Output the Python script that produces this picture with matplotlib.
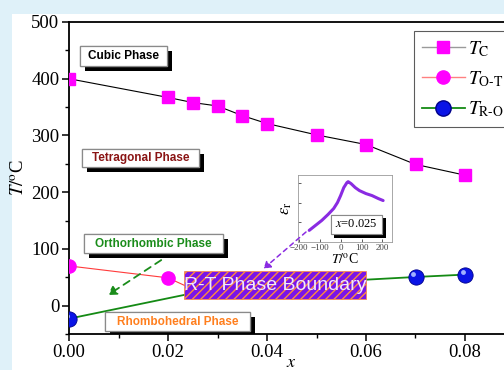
import numpy as np
import matplotlib
matplotlib.use("Agg")
import matplotlib.pyplot as plt
from matplotlib import patheffects
from matplotlib.patches import Rectangle, FancyArrowPatch
from matplotlib.lines import Line2D
import matplotlib.transforms as mtransforms

plt.rcParams["font.family"] = ["Liberation Serif", "DejaVu Serif"]
plt.rcParams["mathtext.fontset"] = "stix"

# phase boundary data
x_tc = [0.0, 0.02, 0.025, 0.03, 0.035, 0.04, 0.05, 0.06, 0.07, 0.08]
t_c = [400, 367, 358, 352, 335, 321, 301, 284, 249, 230]
x_ot = [0.0, 0.02, 0.026]
t_ot = [70, 49, 25]
x_ro = [0.0, 0.03, 0.05, 0.07, 0.08]
t_ro = [-23, 31, 41, 50.5, 54.7]

# inset: permittivity vs temperature for x=0.025
ins_t = [-150, -120, -90, -60, -33, -15, 0, 15, 30, 36, 50, 70, 90, 121, 150, 180, 203]
ins_eps = [12, 17, 22, 28, 34, 40, 47, 55, 60, 61, 59, 55, 52, 49, 47, 44, 42]

W, H = 504, 370
fig = plt.figure(figsize=(W / 100, H / 100), dpi=100, facecolor="#dff1f9")
fig.add_artist(Rectangle((12 / W, 0), 1, (H - 14) / H, transform=fig.transFigure,
                         facecolor="white", edgecolor="none", zorder=-10))

ax = fig.add_axes([69 / W, 36 / H, 445.5 / W, 312 / H])
ax.set_facecolor("none")
ax.set_xlim(0, 0.09)
ax.set_ylim(-50, 500)

ax.plot(x_tc, t_c, color="black", lw=0.8, marker="s", ms=8, mfc="#ff00ff", mec="#ff00ff", zorder=3)
ax.plot(x_ot, t_ot, color="#ff3b3b", lw=0.8, marker="o", ms=9.5, mfc="#ff00ff", mec="#ff00ff", zorder=3)
ax.plot(x_ro, t_ro, color="#148a14", lw=1.3, marker="o", ms=11, mfc="#0a14e6", mec="#00008a",
        mew=0.6, zorder=3)
hl = mtransforms.offset_copy(ax.transData, fig=fig, x=-2.5, y=2.5, units="dots")
ax.plot(x_ro, t_ro, ls="none", marker="o", ms=3.5, mfc="#9fb0ff", mec="none", transform=hl, zorder=3.1)

for s in ax.spines.values():
    s.set_linewidth(1.3)
ax.set_xticks([0, 0.02, 0.04, 0.06, 0.08])
ax.set_xticks(np.arange(0.01, 0.09, 0.02), minor=True)
ax.set_yticks([0, 100, 200, 300, 400, 500])
ax.set_yticks(np.arange(-50, 500, 100), minor=True)
ax.xaxis.set_major_formatter(matplotlib.ticker.FormatStrFormatter("%.2f"))
ax.tick_params(which="major", direction="out", length=5, width=1.1, labelsize=13.5, pad=2)
ax.tick_params(which="minor", direction="out", length=3, width=1.0)
ax.set_ylabel(r"$T/^{\rm o}$C", fontsize=13.5, labelpad=2)
ax.set_xlabel(r"$x$", fontsize=13, labelpad=-5)

# legend
handles = [
    Line2D([], [], color="#9a9a9a", lw=1, marker="s", ms=8, mfc="#ff00ff", mec="#ff00ff"),
    Line2D([], [], color="#ff8080", lw=1, marker="o", ms=9.5, mfc="#ff00ff", mec="#ff00ff"),
    Line2D([], [], color="#148a14", lw=1.3, marker="o", ms=11, mfc="#0a14e6", mec="#00008a"),
]
labels = [r"$T_{\rm C}$", r"$T_{\rm O\text{-}T}$", r"$T_{\rm R\text{-}O}$"]
leg = ax.legend(handles, labels, loc="upper left", bbox_to_anchor=(0.7744, 0.971),
                fontsize=14, frameon=True, fancybox=False, handlelength=2.2, handletextpad=0.2,
                labelspacing=0.55, borderpad=0.4, borderaxespad=0)
leg.get_frame().set_edgecolor("#333333")
leg.get_frame().set_linewidth(0.8)

# phase label boxes (axes fraction)
shadow = [patheffects.withSimplePatchShadow(offset=(3.6, -3.6), shadow_rgbFace="black", alpha=1.0),
          patheffects.Normal()]
phase_boxes = [
    ("Cubic Phase", "black", (0.0247, 0.859, 0.220, 0.923)),
    ("Tetragonal Phase", "#8a1414", (0.0285, 0.5347, 0.2918, 0.5924)),
    ("Orthorhombic Phase", "#1a8c1a", (0.0337, 0.2587, 0.3457, 0.3196)),
    ("Rhombohedral Phase", "#ff7f1e", (0.0808, 0.0083, 0.4063, 0.0693)),
]
for txt, col, (x0, y0, x1, y1) in phase_boxes:
    r = Rectangle((x0, y0), x1 - x0, y1 - y0, transform=ax.transAxes, facecolor="white",
                  edgecolor="#8a8a8a", lw=0.9, zorder=5)
    r.set_path_effects(shadow)
    ax.add_patch(r)
    ax.text((x0 + x1) / 2, (y0 + y1) / 2, txt, transform=ax.transAxes, ha="center", va="center",
            color=col, fontsize=8.5, fontweight="bold", family="Liberation Sans", zorder=6)

# R-T phase boundary box
rt = Rectangle((0.0233, 11.6), 0.0601 - 0.0233, 61 - 11.6, facecolor="#7a14e8",
               edgecolor="#ff8c3c", hatch="////", lw=0.5, zorder=6)
ax.add_patch(rt)
ax.text(0.0417, 35.5, "R-T Phase Boundary", ha="center", va="center", color="#f0e8ff",
        fontsize=14, family="Liberation Sans", zorder=7)

# arrows
fig.add_artist(FancyArrowPatch((0.0191, 83), (0.0074, 16), transform=ax.transData,
                               arrowstyle="-|>,head_length=5,head_width=3", color="#1a8c1a",
                               lw=1.3, ls=(0, (4, 3)), zorder=4))

# inset
ins = fig.add_axes([297.7 / W, (H - 242.3) / H, 94 / W, 67.6 / H])
ins.plot(ins_t, ins_eps, color="#8a2be2", lw=2.2, solid_capstyle="round")
ins.set_xlim(-205, 244)
ins.set_ylim(0, 68)
ins.set_xticks([-200, -100, 0, 100, 200])
ins.set_yticks([20, 40, 60])
ins.set_yticklabels([])
ins.tick_params(direction="in", length=2, width=0.6, labelsize=6.5, pad=1.5, colors="#444444")
for s in ins.spines.values():
    s.set_linewidth(0.6)
    s.set_edgecolor("#9a9a9a")
ins.set_xlabel(r"$T/^{\rm o}$C", fontsize=10, labelpad=0)
ins.set_ylabel(r"$\varepsilon_{\rm r}$", fontsize=12, labelpad=1)
ib = Rectangle((0.354, 0.12), 0.546, 0.29, transform=ins.transAxes, facecolor="white",
               edgecolor="#8a8a8a", lw=0.8, zorder=5)
ib.set_path_effects([patheffects.withSimplePatchShadow(offset=(2.5, -2.5), shadow_rgbFace="black",
                                                       alpha=1.0), patheffects.Normal()])
ins.add_patch(ib)
ins.text(0.627, 0.265, r"$x$=0.025", transform=ins.transAxes, ha="center", va="center",
         fontsize=9, zorder=6)

fig.add_artist(FancyArrowPatch((0.0483, 133), (0.0389, 62), transform=ax.transData,
                               arrowstyle="-|>,head_length=4,head_width=2.5", color="#8a2be2",
                               lw=1.1, ls=(0, (3, 2.5)), zorder=8))

fig.savefig("out.png", dpi=100, facecolor=fig.get_facecolor())
